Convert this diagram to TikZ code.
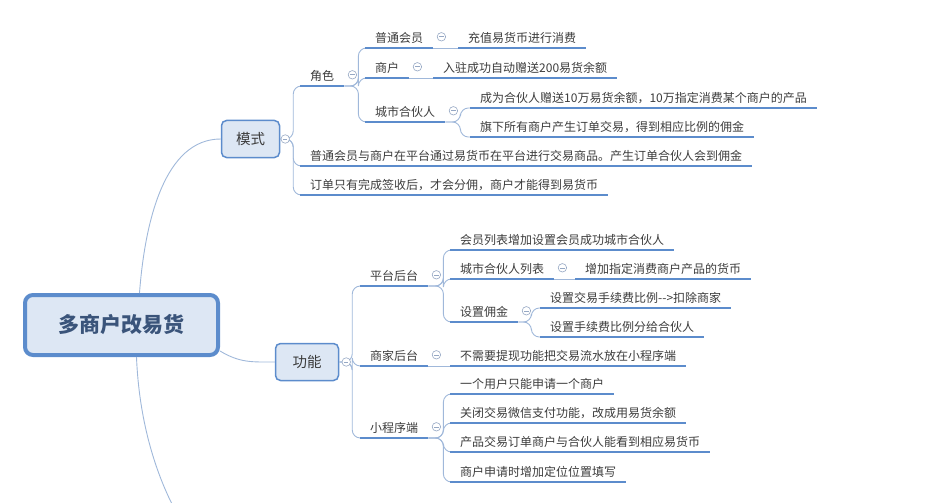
\documentclass[tikz,border=0pt]{standalone}
\usepackage{fontspec}
\setmainfont{Noto Sans CJK SC}
\usepackage{xcolor}
\usetikzlibrary{positioning}
\definecolor{lineblue}{RGB}{92,140,204}
\definecolor{linkblue}{RGB}{160,184,218}
\definecolor{boxfill}{RGB}{221,231,244}
\definecolor{foldgray}{RGB}{150,168,196}
\definecolor{txtgray}{RGB}{60,60,60}
\definecolor{roottxt}{RGB}{58,84,122}

\begin{document}
\begin{tikzpicture}[x=1pt, y=-1pt,
  rootbox/.style={draw=lineblue, line width=4pt, fill=boxfill, rounded corners=8pt,
              minimum width=193pt, minimum height=60pt, text=roottxt,
              font=\bfseries\fontsize{21}{24}\selectfont},
  mainbox/.style={draw=lineblue, line width=1.5pt, fill=boxfill, rounded corners=5pt,
              minimum height=37pt, inner xsep=8pt, text=txtgray,
              font=\fontsize{14.5}{16}\selectfont},
  leaf/.style={anchor=south west, inner xsep=10pt, inner ysep=3pt,
              text height=9.5pt, text depth=2.5pt, text=txtgray,
              font=\fontsize{12}{14}\selectfont},
  uline/.style={draw=lineblue, line width=2.6pt},
  link/.style={draw=linkblue, line width=0.9pt, rounded corners=8pt},
  fold/.style={circle, draw=foldgray, fill=white, line width=0.6pt, minimum size=8.5pt,
              inner sep=0pt,
              path picture={\draw[foldgray, line width=0.6pt]
                ([xshift=-2.2pt]path picture bounding box.center) --
                ([xshift=2.2pt]path picture bounding box.center);}}]
\useasboundingbox (0,0) rectangle (930,503);

% main topics
\node[rootbox] (root) at (121.5,325) {多商户改易货};
\node[mainbox, minimum width=58pt] (mode) at (250.5,139) {模式};
\node[mainbox, minimum width=63pt] (func) at (307,362) {功能};
\coordinate (more) at (172,504);

% 模式
\node[leaf] (jiaose) at (300,86) {角色};
\node[leaf] (putong) at (365,48) {普通会员};
\node[leaf] (chongzhi) at (458,48) {充值易货币进行消费};
\node[leaf] (shanghu) at (365,78) {商户};
\node[leaf] (ruzhu) at (433,78) {入驻成功自动赠送200易货余额};
\node[leaf] (chengshi) at (365,122) {城市合伙人};
\node[leaf] (zengsong) at (470,108) {成为合伙人赠送10万易货余额，10万指定消费某个商户的产品};
\node[leaf] (qixia) at (470,137) {旗下所有商户产生订单交易，得到相应比例的佣金};
\node[leaf] (jiaoyi) at (300,166) {普通会员与商户在平台通过易货币在平台进行交易商品。产生订单合伙人会到佣金};
\node[leaf] (dingdan) at (300,195) {订单只有完成签收后，才会分佣，商户才能得到易货币};

% 功能
\node[leaf] (pingtai) at (360,286) {平台后台};
\node[leaf] (liebiao) at (450,250) {会员列表增加设置会员成功城市合伙人};
\node[leaf] (hhrlb) at (450,279) {城市合伙人列表};
\node[leaf] (huobi) at (575,279) {增加指定消费商户产品的货币};
\node[leaf] (yongjin) at (450,322) {设置佣金};
\node[leaf] (shouxu) at (540,308) {设置交易手续费比例-\kern0pt-\kern0pt>扣除商家};
\node[leaf] (fenpei) at (540,337) {设置手续费比例分给合伙人};
\node[leaf] (shangjia) at (360,366) {商家后台};
\node[leaf] (tixian) at (450,366) {不需要提现功能把交易流水放在小程序端};
\node[leaf] (xcx) at (360,438) {小程序端};
\node[leaf] (yonghu) at (450,394) {一个用户只能申请一个商户};
\node[leaf] (guanbi) at (450,423) {关闭交易微信支付功能，改成用易货余额};
\node[leaf] (chanpin) at (450,452) {产品交易订单商户与合伙人能看到相应易货币};
\node[leaf] (dingwei) at (450,482) {商户申请时增加定位位置填写};

\draw[link] ([xshift=18pt]root.north) .. controls (145,220) and (165,139) .. (mode.west);
\draw[link] ([yshift=6pt]root.south east) .. controls (240,363) and (252,362) .. (func.west);
\draw[link] ([xshift=15pt]root.south) .. controls (139,420) and (155,470) .. (more);

\foreach \c in {jiaose, jiaoyi, dingdan}
  \draw[link] (mode.east) -- ++(13,0) |- (\c.south west);
\foreach \c in {pingtai, shangjia, xcx}
  \draw[link] (func.east) -- ++(13,0) |- (\c.south west);
\foreach \p/\c/\dx in {jiaose/putong/14, jiaose/shanghu/14, jiaose/chengshi/14,
    chengshi/zengsong/15, chengshi/qixia/15,
    pingtai/liebiao/15, pingtai/hhrlb/15, pingtai/yongjin/15,
    yongjin/shouxu/13, yongjin/fenpei/13,
    xcx/yonghu/15, xcx/guanbi/15, xcx/chanpin/15, xcx/dingwei/15}
  \draw[link] (\p.south east) -- ++(\dx,0) |- (\c.south west);
\foreach \p/\c in {putong/chongzhi, shanghu/ruzhu, hhrlb/huobi, shangjia/tixian}
  \draw[link] (\p.south east) -- (\c.south west);

% underlines
\foreach \n in {jiaose, putong, chongzhi, shanghu, ruzhu, chengshi, zengsong, qixia,
    jiaoyi, dingdan, pingtai, liebiao, hhrlb, huobi, yongjin, shouxu, fenpei,
    shangjia, tixian, xcx, yonghu, guanbi, chanpin, dingwei}
  \draw[uline] (\n.south west) -- (\n.south east);

% collapse marks
\node[fold] at ([xshift=5pt]mode.east) {};
\node[fold] at ([xshift=7pt]func.east) {};
\foreach \n in {jiaose, putong, shanghu, chengshi, pingtai, hhrlb, yongjin, shangjia, xcx}
  \node[fold] at ([xshift=8pt, yshift=2pt]\n.east) {};
\end{tikzpicture}
\end{document}
